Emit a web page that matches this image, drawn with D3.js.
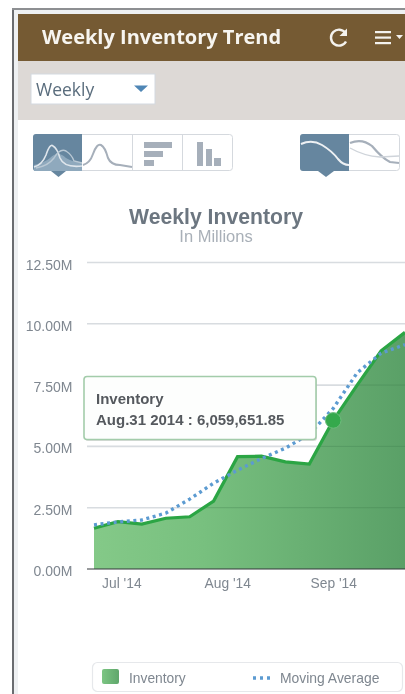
<!DOCTYPE html>
<html>
<head>
<meta charset="utf-8">
<script src="https://cdn.jsdelivr.net/npm/d3@7"></script>
<style>
html,body{margin:0;padding:0;background:#fff;overflow:hidden}
svg{display:block;filter:blur(0.35px)}
</style>
</head>
<body>
<svg id="chart"></svg>
<script>
var w = 405
var h = 694

// weekly points (millions)
var weeks = ["2014-06-22","2014-06-29","2014-07-06","2014-07-13","2014-07-20","2014-07-27","2014-08-03","2014-08-10","2014-08-17","2014-08-24","2014-08-31","2014-09-07","2014-09-14","2014-09-21"]
var inventory = [1.66,1.93,1.83,2.07,2.13,2.77,4.58,4.60,4.37,4.28,6.06,7.50,8.90,9.65]
var movingAvg = [1.80,1.92,2.00,2.28,2.85,3.50,4.03,4.50,4.93,5.50,6.55,8.00,8.80,9.15]
var yTicks = [0,2.5,5,7.5,10,12.5]
var xTickDates = ["2014-06-30","2014-07-31","2014-08-31"]
var xTickLabels = ["Jul '14","Aug '14","Sep '14"]
var tooltipLines = ["Inventory","Aug.31 2014 : 6,059,651.85"]
var tooltipIndex = 10

var parseDay = d3.utcParse("%Y-%m-%d")
var sansFont = "'Liberation Sans', Arial, sans-serif"

var svg = d3.select("#chart")
	.attr("width",w)
	.attr("height",h)
	.style("background-color","white")

var defs = svg.append("defs")

var grad = defs.append("linearGradient").attr("id","areaGrad")
grad.append("stop").attr("offset","0%").attr("stop-color","#84c988")
grad.append("stop").attr("offset","35%").attr("stop-color","#78c07f")
grad.append("stop").attr("offset","100%").attr("stop-color","#5aa067")

var legGrad = defs.append("linearGradient").attr("id","legGrad")
legGrad.append("stop").attr("offset","0%").attr("stop-color","#7cc583")
legGrad.append("stop").attr("offset","100%").attr("stop-color","#5fa76b")

defs.append("clipPath").attr("id","plotClip")
	.append("rect").attr("x",80).attr("y",250).attr("width",325).attr("height",330)

// page frame
svg.append("rect").attr("x",13).attr("y",9).attr("width",392).attr("height",685).attr("fill","#eef0f2")
svg.append("rect").attr("x",12).attr("y",9).attr("width",2).attr("height",685).attr("fill","#6a6c70")
svg.append("rect").attr("x",12).attr("y",8).attr("width",393).attr("height",2).attr("fill","#8d8f92")
svg.append("rect").attr("x",18).attr("y",14).attr("width",387).attr("height",680).attr("fill","white")

// header
svg.append("rect").attr("x",18).attr("y",14).attr("width",387).attr("height",47).attr("fill","#755a33")
svg.append("text").attr("x",42).attr("y",44)
	.attr("font-family","'Open Sans', sans-serif").attr("font-weight",700).attr("font-size",20)
	.attr("fill","#f7f5f0").text("Weekly Inventory Trend")

// refresh icon
svg.append("path").attr("d","M345.5 33 A8 8 0 1 0 346 41.5")
	.attr("fill","none").attr("stroke","#f4f2ee").attr("stroke-width",2.4)
svg.append("path").attr("d","M347 28.5 L347 36 L339.5 36 Z").attr("fill","#f4f2ee")
// menu icon
svg.selectAll("rect.menuBar").data([31,36.5,42]).enter().append("rect")
	.attr("class","menuBar").attr("x",375).attr("y",function(d){return d})
	.attr("width",16).attr("height",2.2).attr("fill","#f4f2ee")
svg.append("path").attr("d","M396 35 L403 35 L399.5 39 Z").attr("fill","#f4f2ee")

// filter band
svg.append("rect").attr("x",18).attr("y",61).attr("width",387).attr("height",59).attr("fill","#ddd9d6")
svg.append("rect").attr("x",31).attr("y",74).attr("width",124).attr("height",30)
	.attr("fill","white").attr("stroke","#d3d9e0")
svg.append("text").attr("x",36).attr("y",96)
	.attr("font-family","'Open Sans', sans-serif").attr("font-size",17.5).attr("fill","#5a6d7d").text("Weekly")
svg.append("path").attr("d","M134 85.5 L148 85.5 L141 92 Z").attr("fill","#4f86b5")

// chart type buttons
function buttonBox(x,y,bw,bh){
	svg.append("rect").attr("x",x).attr("y",y).attr("width",bw).attr("height",bh).attr("rx",3)
		.attr("fill","white").attr("stroke","#d5d9de")
}
buttonBox(33.5,134.5,199,36)
buttonBox(300.5,134.5,99,36)
svg.append("path").attr("d","M36 134 L82 134 L82 171 L36 171 Q33 171 33 168 L33 137 Q33 134 36 134 Z").attr("fill","#66869f")
svg.append("path").attr("d","M51 171 L66 171 L58.5 177 Z").attr("fill","#66869f")
svg.append("path").attr("d","M303 134 L349 134 L349 171 L303 171 Q300 171 300 168 L300 137 Q300 134 303 134 Z").attr("fill","#66869f")
svg.append("path").attr("d","M318 171 L334 171 L326 177 Z").attr("fill","#66869f")
svg.append("path").attr("d","M82 155 L82 171 L34 171 L34 165 Q44 163 50 158 Q58 150 66 158 Q74 163 82 162 Z").attr("fill","#8fa9bd")
svg.append("path").attr("d","M34 167 Q42 165 46 155 Q50 143 53 146 Q57 148 60 158 Q64 168 82 166")
	.attr("fill","none").attr("stroke","#dfe6ec").attr("stroke-width",1.6)
svg.append("path").attr("d","M36 168 Q48 166 54 158 Q60 148 66 151 Q72 155 74 161 L82 163")
	.attr("fill","none").attr("stroke","#b9c8d4").attr("stroke-width",1.4)
svg.append("line").attr("x1",132.5).attr("x2",132.5).attr("y1",134).attr("y2",170).attr("stroke","#d5d9de")
svg.append("line").attr("x1",182.5).attr("x2",182.5).attr("y1",134).attr("y2",170).attr("stroke","#d5d9de")
svg.append("path").attr("d","M83 165 Q90 163 93 154 Q97 143 101 145 Q105 147 108 158 Q111 165 120 165 L132 167")
	.attr("fill","none").attr("stroke","#a6afba").attr("stroke-width",2)
svg.append("rect").attr("x",144).attr("y",142).attr("width",28).attr("height",6).attr("fill","#a6afba")
svg.append("rect").attr("x",144).attr("y",151).attr("width",19).attr("height",6).attr("fill","#a6afba")
svg.append("rect").attr("x",144).attr("y",160).attr("width",10).attr("height",6).attr("fill","#a6afba")
svg.append("rect").attr("x",197).attr("y",142).attr("width",6).attr("height",24).attr("fill","#a6afba")
svg.append("rect").attr("x",206).attr("y",149).attr("width",6).attr("height",17).attr("fill","#a6afba")
svg.append("rect").attr("x",214).attr("y",158).attr("width",7).attr("height",8).attr("fill","#a6afba")
svg.append("path").attr("d","M301 144 Q312 139 322 145 Q332 151 338 159 Q343 165 349 165")
	.attr("fill","none").attr("stroke","#eef1f4").attr("stroke-width",2)
svg.append("path").attr("d","M350 143 Q362 138 372 146 Q382 158 390 162 L399 163")
	.attr("fill","none").attr("stroke","#a6afba").attr("stroke-width",2.2)
svg.append("path").attr("d","M350 148 Q364 156 380 157 L399 156")
	.attr("fill","none").attr("stroke","#cfd4da").attr("stroke-width",1.4)

// titles
svg.append("text").attr("x",216).attr("y",224).attr("text-anchor","middle")
	.attr("font-family",sansFont).attr("font-weight",700).attr("font-size",21.2)
	.attr("fill","#6c7680").text("Weekly Inventory")
svg.append("text").attr("x",216).attr("y",242).attr("text-anchor","middle")
	.attr("font-family",sansFont).attr("font-size",16.5)
	.attr("fill","#a9b0b8").text("In Millions")

// scales
var x = d3.scaleUtc()
	.domain([parseDay(weeks[0]),parseDay(weeks[13])])
	.range([94,405])
var y = d3.scaleLinear().domain([0,12.5]).range([569,262.5])

var rows = weeks.map(function(d,i){
	return {date:parseDay(d),inv:inventory[i],avg:movingAvg[i]}
})

// gridlines + y labels
var yAxis = d3.axisLeft(y).tickValues(yTicks).tickSize(0).tickPadding(0)
	.tickFormat(function(d){return d3.format(".2f")(d)+"M"})
var yG = svg.append("g").attr("transform","translate(72.5,0)").call(yAxis)
yG.select(".domain").remove()
yG.selectAll("text").attr("font-family",sansFont).attr("font-size",14).attr("fill","#7f8790")
	.attr("dy","0.75em")
	.attr("y",-4)

svg.append("g").selectAll("line").data(yTicks.filter(function(d){return d>0})).enter().append("line")
	.attr("x1",87).attr("x2",405)
	.attr("y1",function(d){return y(d)}).attr("y2",function(d){return y(d)})
	.attr("stroke","#d8dce0").attr("stroke-width",1.6)

var plot = svg.append("g").attr("clip-path","url(#plotClip)")

plot.append("path").datum(rows)
	.attr("d",d3.area().x(function(d){return x(d.date)}).y0(y(0)).y1(function(d){return y(d.inv)}))
	.attr("fill","url(#areaGrad)")

// gridlines show faintly through the area
var areaClip = defs.append("clipPath").attr("id","areaClip")
areaClip.append("path").datum(rows)
	.attr("d",d3.area().x(function(d){return x(d.date)}).y0(y(0)).y1(function(d){return y(d.inv)}))
plot.append("g").attr("clip-path","url(#areaClip)")
	.selectAll("line").data(yTicks.filter(function(d){return d>0})).enter().append("line")
	.attr("x1",87).attr("x2",405)
	.attr("y1",function(d){return y(d)}).attr("y2",function(d){return y(d)})
	.attr("stroke","#3f7f4c").attr("stroke-opacity",0.35).attr("stroke-width",1)

plot.append("path").datum(rows)
	.attr("d",d3.line().x(function(d){return x(d.date)}).y(function(d){return y(d.inv)}))
	.attr("fill","none").attr("stroke","#2ba544").attr("stroke-width",3.2)

plot.append("path").datum(rows)
	.attr("d",d3.line().x(function(d){return x(d.date)}).y(function(d){return y(d.avg)}))
	.attr("fill","none").attr("stroke","#5c9bd1").attr("stroke-width",3.4)
	.attr("stroke-dasharray","3 3.6")

// x axis
var xAxis = d3.axisBottom(x).tickValues(xTickDates.map(parseDay)).tickSize(0).tickPadding(9)
	.tickFormat(function(d,i){return xTickLabels[i]})
var xG = svg.append("g").attr("transform","translate(0,569)").call(xAxis)
xG.select(".domain").remove()
xG.selectAll("text").attr("font-family",sansFont).attr("font-size",13.8).attr("fill","#7f8790")
svg.append("line").attr("x1",87).attr("x2",405).attr("y1",569).attr("y2",569)
	.attr("stroke","#33363a").attr("stroke-width",1.2)

// hover point and tooltip
svg.append("circle").attr("cx",x(rows[tooltipIndex].date)).attr("cy",y(rows[tooltipIndex].inv)).attr("r",7.8)
	.attr("fill","#35a94c").attr("stroke","#6dbd7c").attr("stroke-width",1)

svg.append("rect").attr("x",85).attr("y",378).attr("width",232).attr("height",63).attr("rx",3)
	.attr("fill","#8a8f8c").attr("fill-opacity",0.3)
svg.append("rect").attr("x",84).attr("y",376.5).attr("width",232).attr("height",63).attr("rx",3)
	.attr("fill","#fdfefd").attr("stroke","#a3ccaa").attr("stroke-width",1.6)
svg.selectAll("text.tip").data(tooltipLines).enter().append("text")
	.attr("class","tip").attr("x",96).attr("y",function(d,i){return 404+i*20.5})
	.attr("font-family",sansFont).attr("font-weight",700).attr("font-size",15)
	.attr("fill","#55595e").text(function(d){return d})

// legend
svg.append("rect").attr("x",92.5).attr("y",662.5).attr("width",310).attr("height",29).attr("rx",5)
	.attr("fill","white").attr("stroke","#e6e8eb").attr("stroke-width",1.2)
svg.append("rect").attr("x",102).attr("y",669).attr("width",17).attr("height",15).attr("rx",2).attr("fill","url(#legGrad)")
svg.append("text").attr("x",129).attr("y",683).attr("font-family",sansFont).attr("font-size",13.8)
	.attr("fill","#7f8790").text("Inventory")
svg.append("line").attr("x1",253).attr("x2",271).attr("y1",678).attr("y2",678)
	.attr("stroke","#5c9bd1").attr("stroke-width",3.4).attr("stroke-dasharray","3 4")
svg.append("text").attr("x",280).attr("y",683).attr("font-family",sansFont).attr("font-size",13.9)
	.attr("fill","#7f8790").text("Moving Average")
</script>
</body>
</html>
